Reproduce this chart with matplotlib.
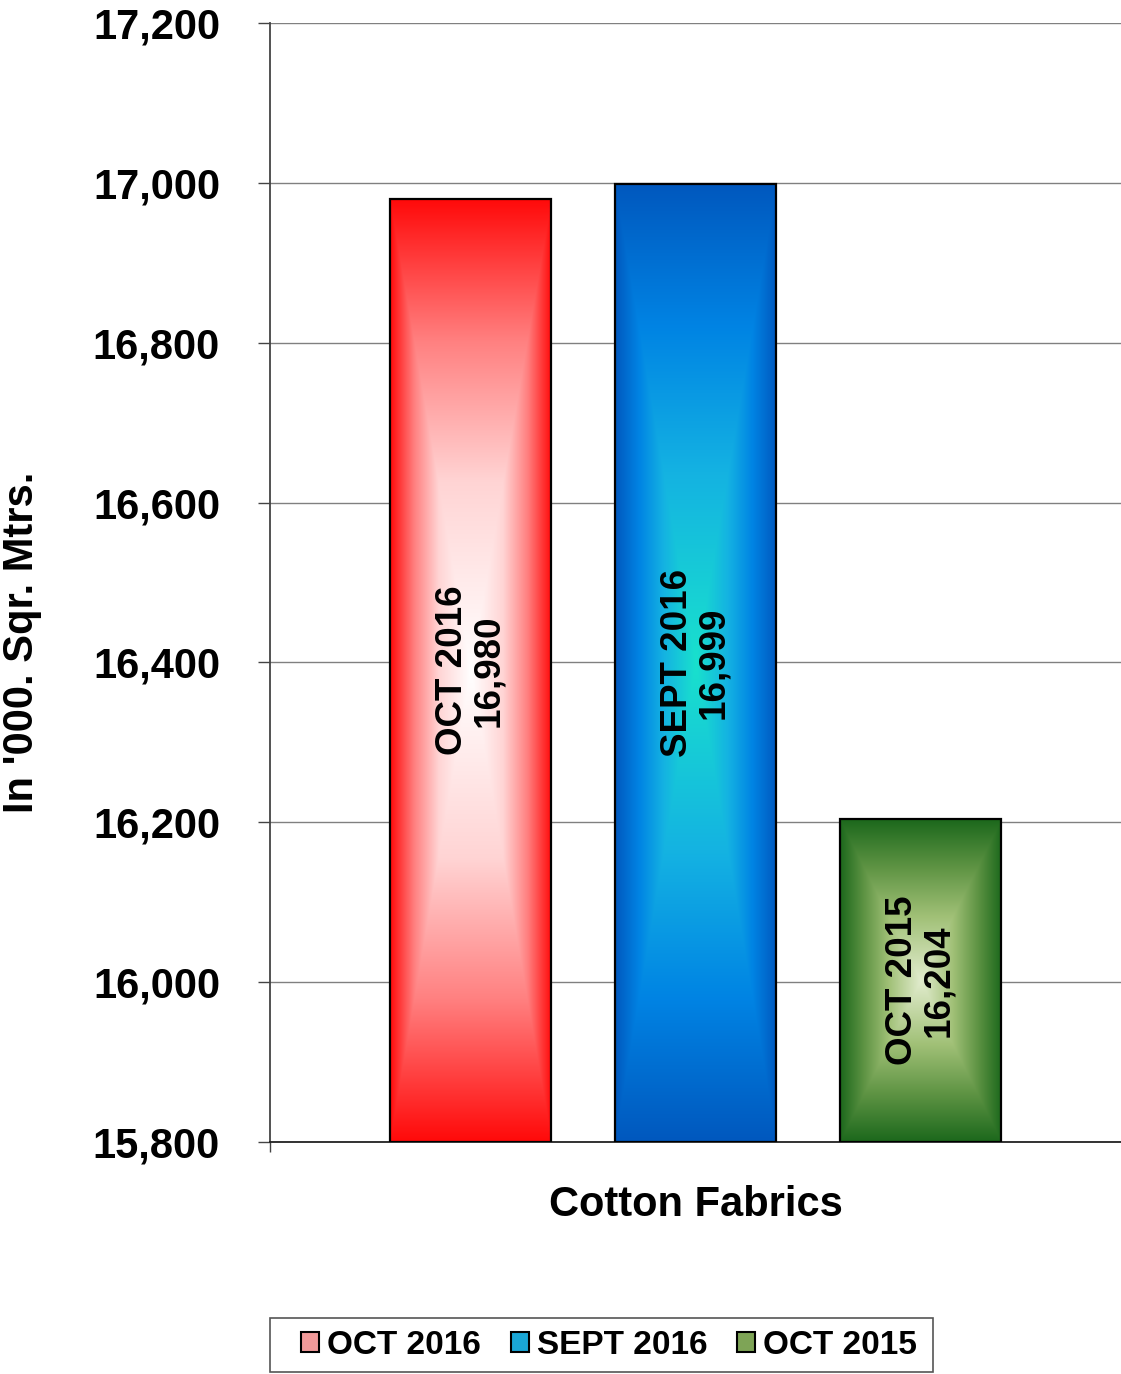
import numpy as np
import matplotlib
matplotlib.use("Agg")
import matplotlib.pyplot as plt
from matplotlib.patches import Rectangle
from matplotlib.ticker import FuncFormatter

plt.rcParams['font.family'] = ['Liberation Sans', 'DejaVu Sans']
plt.rcParams['font.weight'] = 'bold'

periods = ['OCT 2016', 'SEPT 2016', 'OCT 2015']
values = [16980, 16999, 16204]
value_labels = ['16,980', '16,999', '16,204']
category = 'Cotton Fabrics'
y_label = "In '000. Sqr. Mtrs."
y_ticks = [15800, 16000, 16200, 16400, 16600, 16800, 17000, 17200]

# gradient stops: t=0 centre, t=1 edge of the bar
stops_t = [0.0, 0.4, 0.7, 1.0]
grad_colors = [
    [(255, 255, 255), (255, 212, 212), (255, 128, 128), (255, 10, 10)],
    [(25, 225, 205), (20, 178, 226), (0, 132, 228), (0, 88, 190)],
    [(226, 236, 206), (160, 192, 118), (95, 148, 68), (28, 104, 28)],
]
legend_colors = ['#f29a9a', '#1aa6d6', '#7ea456']


def gradient_image(stops, n=300):
    u = np.linspace(-1, 1, n)
    uu, vv = np.meshgrid(u, u)
    t = np.maximum(np.abs(uu), np.abs(vv))
    cols = np.array(stops) / 255.0
    img = np.zeros((n, n, 3))
    for c in range(3):
        img[..., c] = np.interp(t, stops_t, cols[:, c])
    return img


fig = plt.figure(figsize=(11.21, 13.74), dpi=100)
ax = fig.add_axes([270 / 1121, 1 - 1142 / 1374, 1 - 270 / 1121, (1142 - 23) / 1374])

x = np.arange(len(values))
width = 0.716
ymin, ymax = 15800, 17200
bars = ax.bar(x, np.array(values) - ymin, bottom=ymin, width=width,
              color='none', edgecolor='black', linewidth=1.6, zorder=3)

for i, b in enumerate(bars):
    x0, y0 = b.get_x(), b.get_y()
    w, h = b.get_width(), b.get_height()
    img = gradient_image(grad_colors[i])
    im = ax.imshow(img, extent=(x0, x0 + w, y0, y0 + h), aspect='auto',
                   origin='lower', zorder=2, interpolation='bilinear')
    im.set_clip_path(Rectangle((x0, y0), w, h, transform=ax.transData))
    ax.text(x0 + w / 2, y0 + h / 2, periods[i] + '\n' + value_labels[i],
            rotation=90, ha='center', va='center', multialignment='center',
            fontsize=26.5, fontweight='bold', color='black', zorder=4,
            linespacing=1.05)

ax.set_xlim(-0.89, 2.89)
ax.set_ylim(ymin, ymax)
ax.set_yticks(y_ticks)
ax.yaxis.set_major_formatter(FuncFormatter(lambda v, p: '{:,.0f}'.format(v)))
ax.tick_params(axis='y', direction='out', length=9, width=1, color='#444444',
               pad=27, labelsize=30)
ax.set_xticks([-0.89])
ax.set_xticklabels([''])
ax.tick_params(axis='x', direction='out', length=7, width=1, color='#444444')
ax.grid(axis='y', color='#808080', linewidth=1, zorder=0)
ax.set_axisbelow(True)
for s in ['top', 'right']:
    ax.spines[s].set_visible(False)
ax.spines['left'].set_color('#444444')
ax.spines['left'].set_linewidth(1.3)
ax.spines['bottom'].set_color('#222222')
ax.spines['bottom'].set_linewidth(1.3)

fig.text(22 / 1121, 1 - 642 / 1374, y_label, rotation=90, ha='center',
         va='center', fontsize=30, fontweight='bold')
fig.text(696 / 1121, 1 - 1205 / 1374, category, ha='center', va='center',
         fontsize=30, fontweight='bold')

# legend frame drawn separately so it can be wider than the entries
fig.patches.append(Rectangle((270 / 1121, 1 - 1372 / 1374), 663 / 1121, 54 / 1374,
                             transform=fig.transFigure, facecolor='white',
                             edgecolor='#555555', linewidth=1.2, zorder=1))
handles = [Rectangle((0, 0), 1, 1, facecolor=c, edgecolor='black', linewidth=1.5)
           for c in legend_colors]
leg = fig.legend(handles, periods, loc='center',
                 bbox_to_anchor=(609 / 1121, 1 - 1345 / 1374), ncol=3,
                 fontsize=24, frameon=False,
                 handlelength=0.54, handleheight=0.54, handletextpad=0.24,
                 columnspacing=0.9, borderpad=0.2, borderaxespad=0)
leg.set_zorder(2)
for t in leg.get_texts():
    t.set_fontweight('bold')

fig.savefig('out.png', dpi=100)
